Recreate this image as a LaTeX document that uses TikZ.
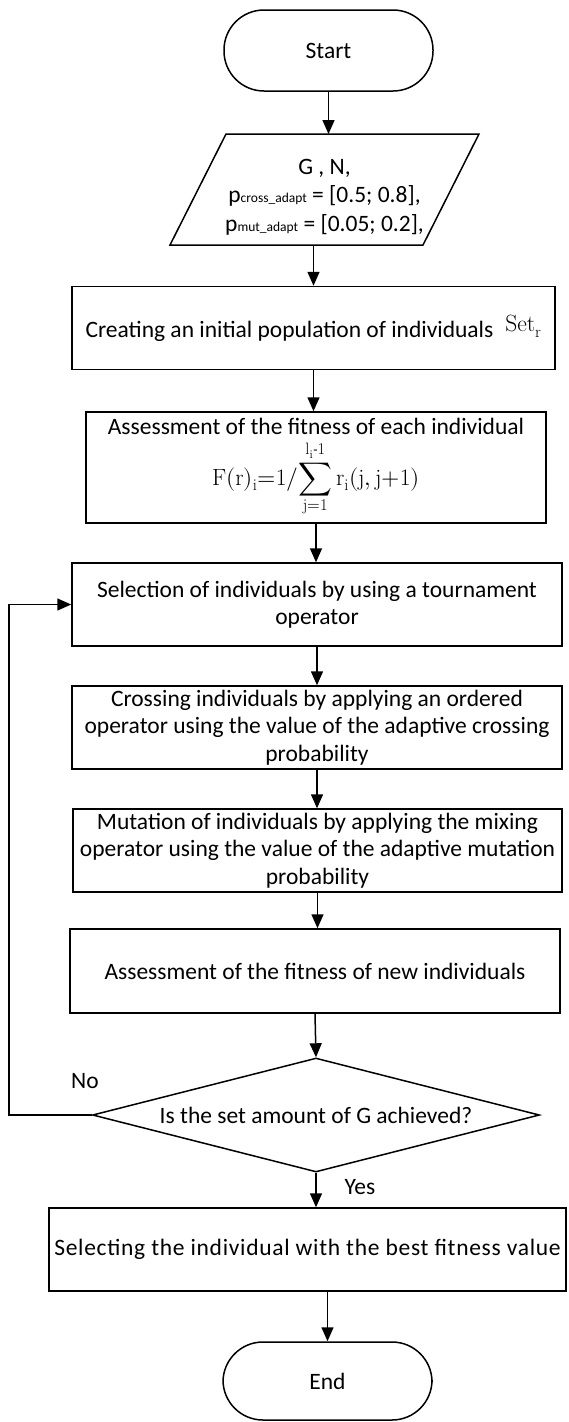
\documentclass[tikz,border=0pt]{standalone}
\usepackage{fontspec}
\usepackage{unicode-math}
\setmainfont{Carlito}
\setmathfont{Latin Modern Math}
\setmathrm{Latin Modern Roman}
\usetikzlibrary{arrows.meta,shapes.geometric}
\newcommand{\subsz}{\fontsize{13.5}{13.5}\selectfont}
\begin{document}
\begin{tikzpicture}[x=1pt,y=-1pt,
  every node/.style={font=\fontsize{23.5}{27.5}\selectfont},
  proc/.style={draw, line width=1.5pt, align=center, inner sep=0pt, minimum height=83pt},
  term/.style={draw, line width=1.5pt, rounded corners=40pt, inner sep=0pt, minimum width=209pt, minimum height=81pt},
  arr/.style={line width=1.5pt, -{Triangle[width=12pt,length=14pt]}},
  border/.style={line width=1.5pt, line join=miter}]
\useasboundingbox (0,0) rectangle (568,1422);
\node[term] (start) at (328.5,50.5) {Start};
% input/output parallelogram
\draw[border] (226,134) -- (479,134) -- (423,245) -- (170,245) -- cycle;
\coordinate (iotop) at (328.5,134);
\coordinate (iobot) at (313.5,245);
\node[align=center, font=\fontsize{23.5}{28.5}\selectfont] (iotext) at (324.5,197)
  {G , N,\\ p{\subsz cross\_adapt} = [0.5; 0.8],\\ p{\subsz mut\_adapt} = [0.05; 0.2],};
\node[proc, minimum width=483pt] (init) at (313.5,328) {\raisebox{-6pt}{Creating an initial population of individuals}\enspace$\mathrm{Set_r}$};
\node[proc, minimum width=460pt, minimum height=111pt] (fit) at (316,467.5)
  {Assessment of the fitness of each individual\\[4pt]
   $\displaystyle \mathrm{F(r)_i{=}1/}\!\sum_{\mathrm{j{=}1}}^{\mathrm{l_i\mbox{\fontsize{14}{14}\selectfont -}1}} \mathrm{r_i(j,j{+}1)}$};
\node[proc, minimum width=490pt] (sel) at (317,604.5) {Selection of individuals by using a tournament\\operator};
\node[proc, minimum width=490pt] (cross) at (317,727.5) {Crossing individuals by applying an ordered\\operator using the value of the adaptive crossing\\probability};
\node[proc, minimum width=489pt] (mut) at (317.5,850.5) {Mutation of individuals by applying the mixing\\operator using the value of the adaptive mutation\\probability};
\node[proc, minimum width=490pt, minimum height=84pt] (eval) at (315,971) {Assessment of the fitness of new individuals};
\node[draw, line width=1.5pt, diamond, aspect=3.92, minimum width=447pt, minimum height=114pt, inner sep=0pt] (dec) at (316,1115) {Is the set amount of G achieved?};
\node[proc, minimum width=517pt] (best) at (307.5,1249.5) {\addfontfeature{LetterSpace=3}Selecting the individual with the best fitness value};
\node[term, minimum height=78pt] (end) at (327.5,1381) {End};
\node (no) at (85,1081) {No};
\node (yes) at (360,1187) {Yes};
\draw[arr] (start.south) -- (iotop);
\draw[arr] (iobot) -- (init.north);
\draw[arr] (init.south) -- (fit.north -| init.south);
\draw[arr] (fit.south) -- (sel.north -| fit.south);
\draw[arr] (sel.south) -- (cross.north);
\draw[arr] (cross.south) -- (mut.north -| cross.south);
\draw[arr] (mut.south) -- (eval.north -| mut.south);
\draw[arr] (eval.south) -- (dec.north);
\draw[arr] (dec.west) -- ++(-83,0) |- (sel.west);
\draw[arr] (dec.south) -- (dec.south |- best.north);
\draw[arr] (best.south -| end.north) -- (end.north);
\end{tikzpicture}
\end{document}
